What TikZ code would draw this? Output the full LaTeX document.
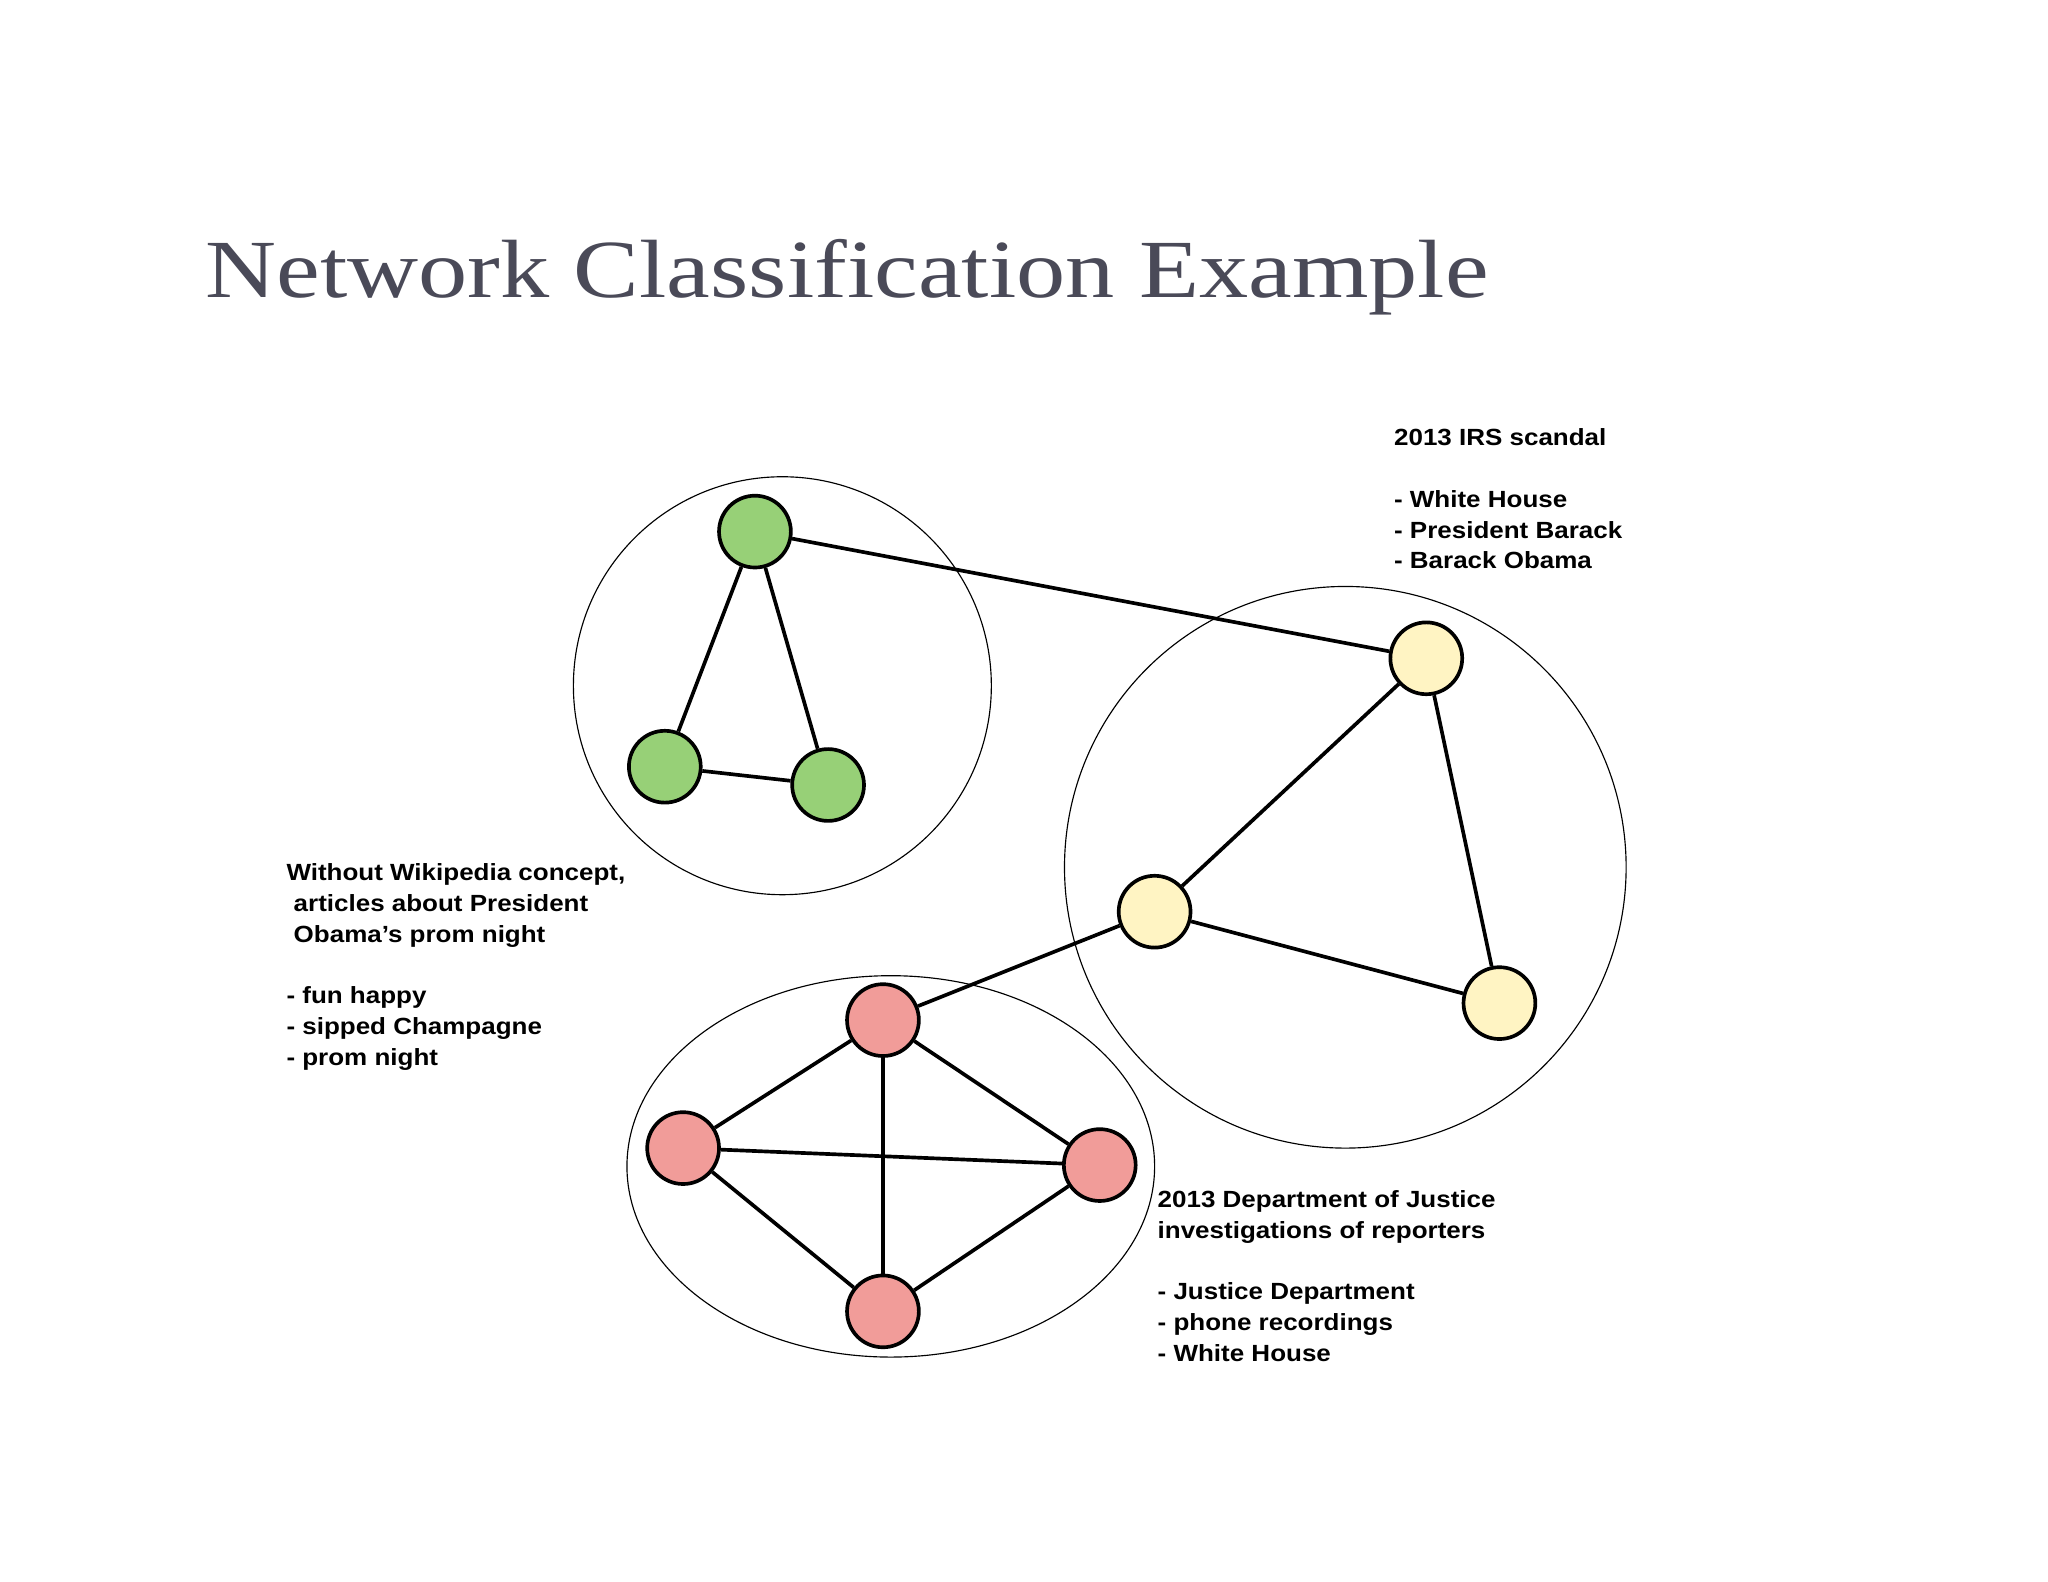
\documentclass[tikz,border=0pt]{standalone}
\usepackage{fontspec}
\setmainfont{Liberation Sans}[FakeStretch=1.11]
\newfontfamily\titlefont{Liberation Serif}[FakeStretch=1.19]
\begin{document}
\begin{tikzpicture}[x=0.02cm,y=-0.02cm,
  nd/.style={circle,draw=black,line width=1.6pt,minimum size=1.1cm,inner sep=0pt},
  ed/.style={line width=1.6pt},
  grp/.style={draw=black,line width=0.5pt},
  lbl/.style={anchor=north west,align=left,font=\fontsize{10.2}{13.4}\selectfont\bfseries,inner sep=0pt}]
\useasboundingbox (0,0) rectangle (1568,1211);
\definecolor{tc}{HTML}{4A4A58}
\node[anchor=base west,inner sep=0pt,text=tc,font=\titlefont\fontsize{36}{40}\selectfont] (title) at (157,228) {Network Classification Example};
\draw[grp] (599,525) circle [radius=160];
\draw[grp] (1030,664) circle [radius=215];
\draw[grp] (682,893) ellipse [x radius=202, y radius=146];
\definecolor{gr}{HTML}{97D077}\definecolor{ye}{HTML}{FFF4C3}\definecolor{rd}{HTML}{F19C99}
\node[nd,fill=gr] (g1) at (578,407) {};
\node[nd,fill=gr] (g2) at (509,587) {};
\node[nd,fill=gr] (g3) at (634,601) {};
\node[nd,fill=ye] (y1) at (1092,504) {};
\node[nd,fill=ye] (y2) at (884,698) {};
\node[nd,fill=ye] (y3) at (1148,768) {};
\node[nd,fill=rd] (r1) at (676,781) {};
\node[nd,fill=rd] (r2) at (523,879) {};
\node[nd,fill=rd] (r3) at (842,892) {};
\node[nd,fill=rd] (r4) at (676,1004) {};
\foreach \a/\b in {g1/g2,g1/g3,g2/g3,g1/y1,y1/y2,y1/y3,y2/y3,y2/r1,r1/r2,r1/r3,r1/r4,r2/r3,r2/r4,r3/r4}
  \draw[ed] (\a) -- (\b);
\node[lbl] (irs) at (1067,328) {2013 IRS scandal\\[13.4pt]- White House\\- President Barack\\- Barack Obama};
\node[lbl] (wiki) at (219,661) {Without Wikipedia concept,\\\ articles about President\\\ Obama\char"27 s prom night\\[13.4pt]- fun happy\\- sipped Champagne\\- prom night};
\node[lbl] (doj) at (886,911) {2013 Department of Justice\\investigations of reporters\\[13.4pt]- Justice Department\\- phone recordings\\- White House};
\end{tikzpicture}
\end{document}
